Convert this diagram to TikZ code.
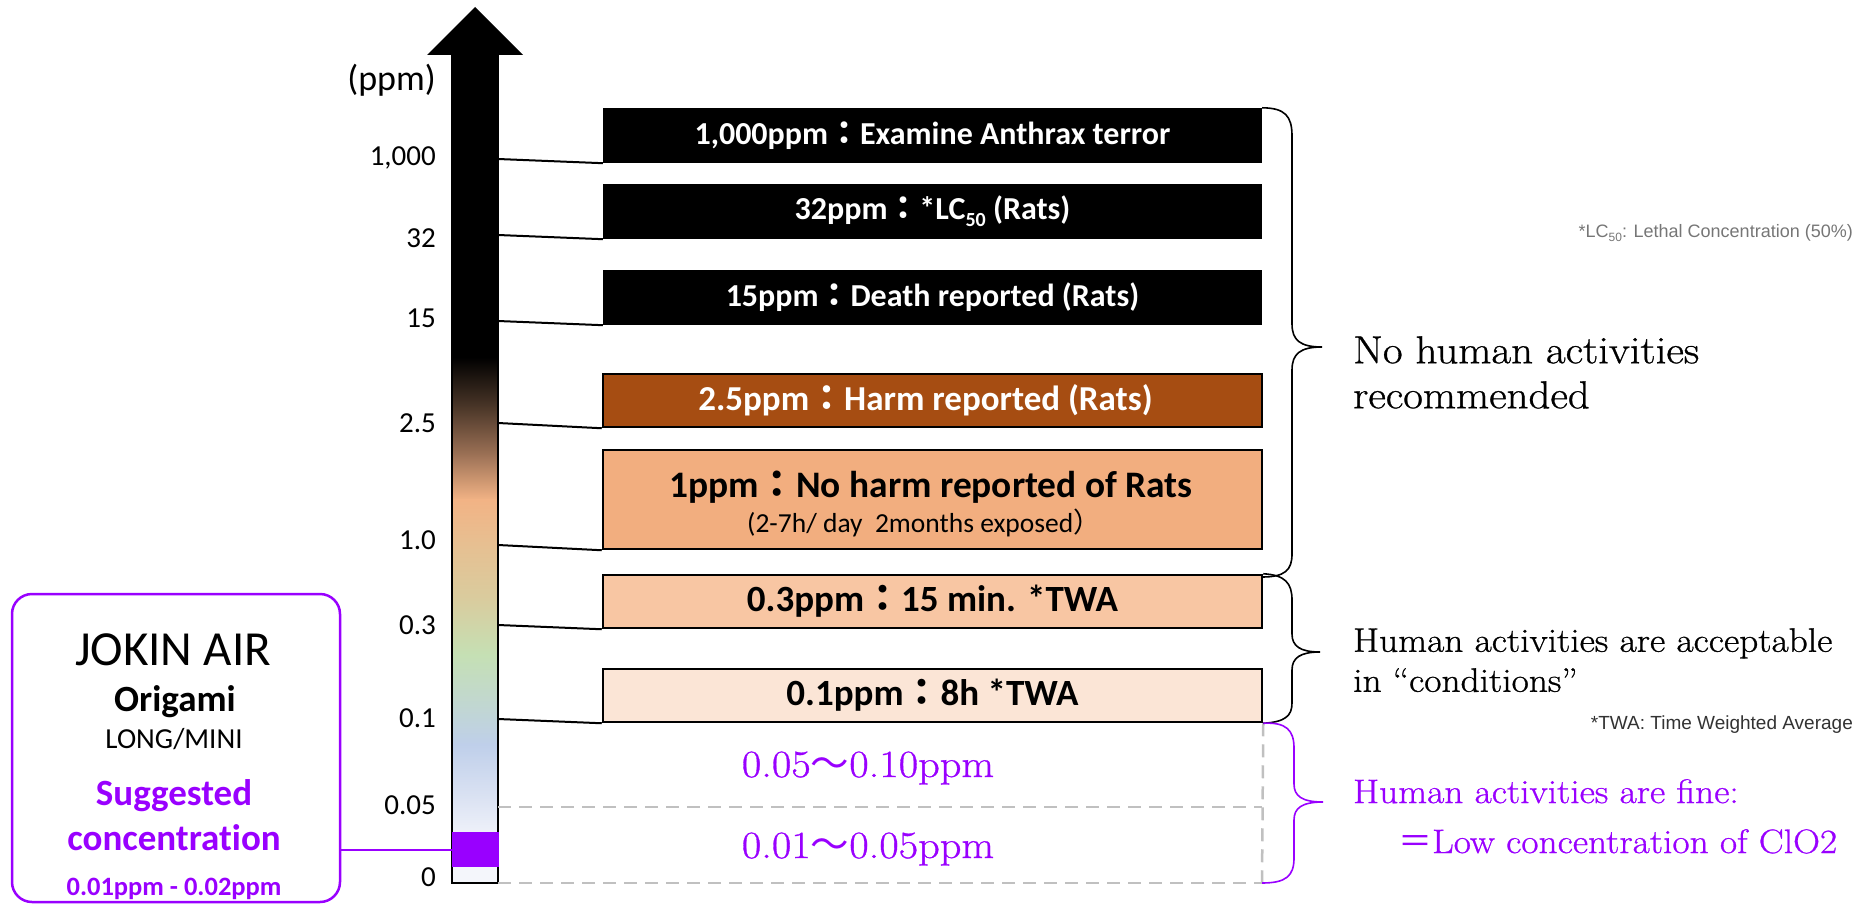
\documentclass[tikz,border=0pt]{standalone}
\usepackage{fontspec}
\newfontfamily\calib[Ligatures=NoCommon]{Carlito}
\newfontfamily\arialf{Liberation Sans}
\newfontfamily\cjk{Noto Sans CJK JP}
\newfontfamily\serifw[FakeStretch=1.1,FakeBold=0.8]{Latin Modern Roman}
\definecolor{purp}{HTML}{9900FF}
\definecolor{brownbox}{HTML}{A64D12}
\definecolor{orbox}{HTML}{F2AE7F}
\definecolor{peachbox}{HTML}{F8C6A3}
\definecolor{palebox}{HTML}{FBE5D6}
\definecolor{dgray}{HTML}{C0C0C0}
\definecolor{gA}{RGB}{74,54,40}
\definecolor{gB}{RGB}{160,116,88}
\definecolor{gC}{RGB}{242,179,133}
\definecolor{gD}{RGB}{230,192,146}
\definecolor{gE}{RGB}{217,204,158}
\definecolor{gF}{RGB}{197,224,180}
\definecolor{gG}{RGB}{192,212,218}
\definecolor{gH}{RGB}{191,207,234}
\definecolor{gI}{RGB}{220,227,243}
\definecolor{gJ}{RGB}{238,241,249}
\definecolor{gK}{RGB}{244,246,251}
\definecolor{notegray}{RGB}{118,118,118}
\definecolor{notedark}{RGB}{50,50,50}
\begin{document}
\begin{tikzpicture}[x=1pt,y=-1pt,
  tickl/.style={anchor=east,inner sep=0,font=\calib\fontsize{29}{29}\selectfont},
  evbox/.style={minimum width=659,minimum height=55,inner sep=0,font=\calib\bfseries\fontsize{32}{38}\selectfont},
  lbox/.style={evbox,draw=black,line width=2.5},
  conn/.style={draw=black,line width=2},
  dashl/.style={draw=dgray,line width=2.5,dash pattern=on 13 off 8},
  brc/.style={draw=black,line width=1.6},
  rtext/.style={anchor=north west,inner sep=0,align=left},
  ctext/.style={anchor=base,inner sep=0}]
\useasboundingbox (0,0) rectangle (1873,904);

% ---- gradient arrow ----
\fill[black] (452,359) -- (452,55) -- (427,55) -- (475,7) -- (523,55) -- (498,55) -- (498,359) -- cycle;
\shade[top color=black,bottom color=gA] (452,357) rectangle (498,407);
\shade[top color=gA,bottom color=gB] (452,406.5) rectangle (498,457);
\shade[top color=gB,bottom color=gC] (452,456.5) rectangle (498,500);
\shade[top color=gC,bottom color=gD] (452,499.5) rectangle (498,547);
\shade[top color=gD,bottom color=gE] (452,546.5) rectangle (498,600);
\shade[top color=gE,bottom color=gF] (452,599.5) rectangle (498,655);
\shade[top color=gF,bottom color=gG] (452,654.5) rectangle (498,720);
\shade[top color=gG,bottom color=gH] (452,719.5) rectangle (498,745);
\shade[top color=gH,bottom color=gI] (452,744.5) rectangle (498,800);
\shade[top color=gI,bottom color=gJ] (452,799.5) rectangle (498,833);
\fill[gK] (452,866) rectangle (498,883);
\draw[line width=2.5] (452,55) -- (452,883) -- (498,883) -- (498,55);
\node[fill=purp,minimum width=47,minimum height=35,inner sep=0] (pb) at (475.5,849.5) {};

% ---- tick labels ----
\node[anchor=east,inner sep=0,font=\calib\fontsize{36}{36}\selectfont] (ppm) at (436,80) {(ppm)};
\node[tickl] (l1000) at (436,158) {1,000};
\node[tickl] (l32) at (436,238) {32};
\node[tickl] (l15) at (436,318) {15};
\node[tickl] (l25) at (436,423) {2.5};
\node[tickl] (l10) at (436,540) {1.0};
\node[tickl] (l03) at (436,625) {0.3};
\node[tickl] (l01) at (436,718) {0.1};
\node[tickl] (l005) at (436,805) {0.05};
\node[tickl] (l0) at (436,877) {0};

% ---- shaft tick points ----
\coordinate (s1000) at (498,159);
\coordinate (s32) at (498,235);
\coordinate (s15) at (498,321);
\coordinate (s25) at (498,423);
\coordinate (s10) at (498,545);
\coordinate (s03) at (498,625);
\coordinate (s01) at (498,719);
\coordinate (s005) at (498,807);
\coordinate (s0) at (498,883);

% ---- boxes ----
\node[evbox,fill=black,text=white] (b1) at (932.5,135.5) {1,000ppm{\cjk：}Examine Anthrax terror};
\node[evbox,fill=black,text=white] (b2) at (932.5,211.5) {32ppm{\cjk：}*LC\raisebox{-0.22em}{\fontsize{20}{20}\selectfont 50} (Rats)};
\node[evbox,fill=black,text=white] (b3) at (932.5,297.5) {15ppm{\cjk：}Death reported (Rats)};
\node[lbox,fill=brownbox,text=white,minimum height=53,font=\calib\bfseries\fontsize{35}{38}\selectfont] (b4) at (932.5,400.5) {2.5ppm{\cjk：}Harm reported (Rats)\hspace*{14pt}};
\node[lbox,fill=orbox,minimum height=99] (b5) at (932.5,499.5) {};
\node[ctext,font=\calib\bfseries\fontsize{37.4}{40}\selectfont] (b5a) at (931,497) {1ppm{\cjk：}No harm reported of Rats};
\node[ctext,font=\calib\fontsize{27.5}{30}\selectfont] (b5b) at (924,532) {(2-7h/ day\ \ 2months exposed{\cjk）}};
\node[lbox,fill=peachbox,minimum height=53,font=\calib\bfseries\fontsize{37}{40}\selectfont] (b6) at (932.5,601.5) {0.3ppm{\cjk：}15 min. *TWA};
\node[lbox,fill=palebox,minimum height=53,font=\calib\bfseries\fontsize{37}{40}\selectfont] (b7) at (932.5,695.5) {0.1ppm{\cjk：}8h *TWA};

% ---- connectors ----
\draw[conn] (s1000) -- (b1.south west);
\draw[conn] (s32) -- (b2.south west);
\draw[conn] (s15) -- (b3.south west);
\draw[conn] (s25) -- (b4.south west);
\draw[conn] (s10) -- (b5.south west);
\draw[conn] (s03) -- (b6.south west);
\draw[conn] (s01) -- (b7.south west);

% ---- dashed region ----
\coordinate (r005) at (1262,807);
\coordinate (r0) at (1262,883);
\draw[dashl] (s005) -- (r005);
\draw[dashl] (s0) -- (r0);
\draw[dashl] (b7.south east) -- (r0);

\node[ctext,text=purp,font=\serifw\fontsize{38.5}{44}\selectfont] (rng1) at (868,777) {0.05{\cjk～}0.10ppm};
\node[ctext,text=purp,font=\serifw\fontsize{38.5}{44}\selectfont] (rng2) at (868,858) {0.01{\cjk～}0.05ppm};

% ---- braces ----
\draw[brc] (b1.north east) .. controls (1285,108) and (1292,116) .. (1292,136) -- (1292,324)
  .. controls (1292,340) and (1300,347) .. (1322,347)
  .. controls (1300,347) and (1292,354) .. (1292,370) -- (1292,554)
  .. controls (1292,570) and (1285,577) .. (1262,577);
\draw[brc] (b6.north east) .. controls (1285,575) and (1292,583) .. (1292,600) -- (1292,634)
  .. controls (1292,646) and (1300,652) .. (1320,652)
  .. controls (1300,652) and (1292,658) .. (1292,670) -- (1292,703)
  .. controls (1292,716) and (1285,722) .. (b7.south east);
\draw[brc,draw=purp] (b7.south east) .. controls (1286,722) and (1294,730) .. (1294,748) -- (1294,784)
  .. controls (1294,796) and (1302,802) .. (1323,802)
  .. controls (1302,802) and (1294,808) .. (1294,820) -- (1294,858)
  .. controls (1294,876) and (1286,883) .. (r0);

% ---- right texts ----
\node[rtext,font=\serifw\fontsize{39}{45}\selectfont] (nohuman) at (1353,336) {No human activities\\recommended};
\node[rtext,font=\serifw\fontsize{34}{40}\selectfont] (accept) at (1353,628) {Human activities are acceptable\\in “conditions”};
\node[rtext,text=purp,font=\serifw\fontsize{34}{50}\selectfont] (fine) at (1353,779) {Human activities are fine:\\\hspace*{45pt}{\cjk＝}Low concentration of ClO2};
\node[anchor=east,inner sep=0,text=notegray,font=\arialf\fontsize{18}{20}\selectfont] (lcnote) at (1853,233) {*LC\raisebox{-0.25em}{\fontsize{12}{12}\selectfont 50}: Lethal Concentration (50\%)};
\node[anchor=east,inner sep=0,text=notedark,font=\arialf\fontsize{19}{20}\selectfont] (twanote) at (1853,725) {*TWA: Time Weighted Average};

% ---- JOKIN AIR box ----
\node[draw=purp,line width=2.5,rounded corners=20,minimum width=328,minimum height=308,inner sep=0] (jokin) at (176,748) {};
\node[ctext,font=\calib\fontsize{49}{49}\selectfont] (jk1) at (173,665) {JOKIN AIR};
\node[ctext,font=\calib\bfseries\fontsize{37}{37}\selectfont] (jk2) at (175,711) {Origami};
\node[ctext,font=\calib\fontsize{29}{29}\selectfont] (jk3) at (174,748) {LONG/MINI};
\node[ctext,text=purp,font=\calib\bfseries\fontsize{37}{37}\selectfont] (jk4) at (174,805) {Suggested};
\node[ctext,text=purp,font=\calib\bfseries\fontsize{37}{37}\selectfont] (jk5) at (174,850) {concentration};
\node[ctext,text=purp,font=\calib\bfseries\fontsize{26.5}{27}\selectfont] (jk6) at (174,895) {0.01ppm - 0.02ppm};
\draw[purp,line width=2] (pb.west -| jokin.east) -- (pb.west);
\end{tikzpicture}
\end{document}
